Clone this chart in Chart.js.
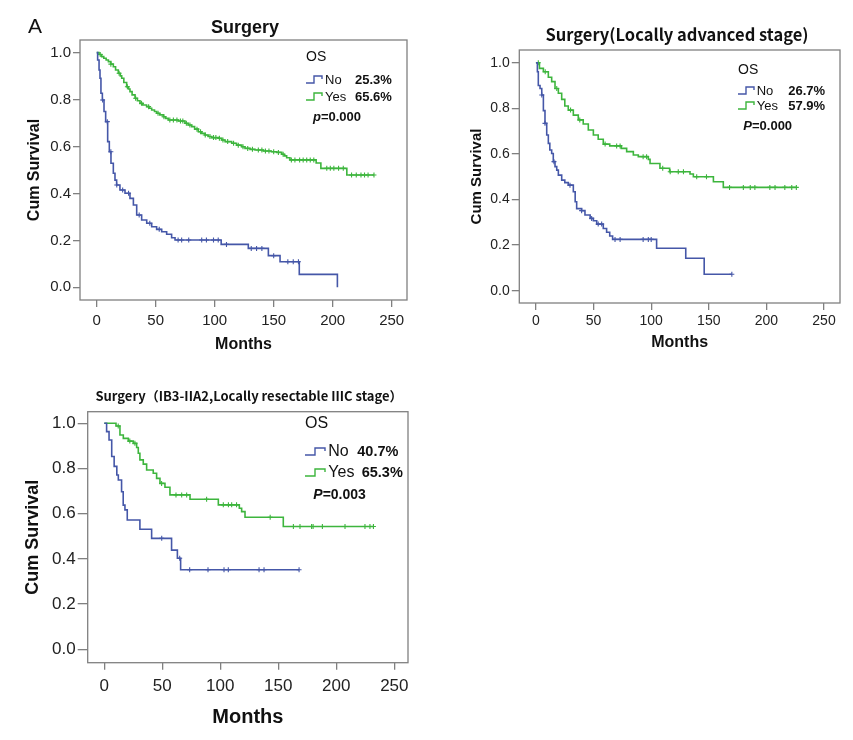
<!DOCTYPE html>
<html>
<head>
<meta charset="utf-8">
<script src="https://cdn.jsdelivr.net/npm/chart.js@4.4.1/dist/chart.umd.min.js"></script>
<style>
  html, body { margin: 0; padding: 0; background: #fff; }
  #page { position: relative; width: 853px; height: 740px; background: #fff; }
  canvas { position: absolute; }
</style>
</head>
<body>
<div id="page">
  <canvas id="km1" width="420" height="360" style="left:0;top:0"></canvas>
  <canvas id="km2" width="423" height="360" style="left:430px;top:0"></canvas>
  <canvas id="km3" width="430" height="360" style="left:0;top:380px"></canvas>
</div>
<script>
// ============================================================
// DATA (months, cumulative survival)
// ============================================================
const groups = ['No', 'Yes'];
const xTickVals = [0, 50, 100, 150, 200, 250];
const yTickVals = [0, 0.2, 0.4, 0.6, 0.8, 1.0];

// Panel 1: Surgery
const p1NoT = [0, 0.8, 2, 2.8, 3.6, 4.8, 6.2, 7.6, 9.3, 10.7, 12.1, 14.1, 15.5, 16.9, 19.7, 24, 28.2, 31.1, 33.9, 38.1, 42.4, 46.6, 50.8, 55.1, 59.3, 63.5, 66.4, 105.5, 128.5, 145.5, 155.4, 171.7, 204];
const p1NoS = [1, 0.969, 0.926, 0.891, 0.827, 0.798, 0.749, 0.706, 0.621, 0.578, 0.529, 0.486, 0.457, 0.436, 0.415, 0.401, 0.379, 0.351, 0.308, 0.287, 0.273, 0.258, 0.247, 0.237, 0.226, 0.211, 0.202, 0.183, 0.166, 0.135, 0.109, 0.055, 0];
const p1NoC = [5, 9, 12, 17, 22, 27, 36, 45, 53, 69, 72, 78, 89, 93, 99, 103, 110, 131, 135.5, 140, 150, 162, 166.6, 171];
const p1YesT = [0, 2, 4.2, 6, 8, 9.9, 12, 14.1, 16, 18.3, 20, 21.2, 23, 25.4, 27, 28.2, 30, 32.5, 34.5, 36.7, 39, 42.3, 44.5, 46.6, 49, 50.8, 53.5, 56.5, 58.5, 60.7, 69.2, 74.8, 77.5, 80.5, 83, 86.1, 89, 91.8, 94.5, 97.4, 103.1, 106, 108.8, 114.4, 118.5, 122.9, 125.7, 130, 134.2, 141.2, 148, 152.5, 156.8, 159, 161, 163.8, 186, 190, 212];
const p1YesS = [1, 0.992, 0.983, 0.976, 0.969, 0.962, 0.951, 0.940, 0.926, 0.912, 0.901, 0.891, 0.873, 0.855, 0.845, 0.834, 0.820, 0.806, 0.795, 0.784, 0.777, 0.770, 0.763, 0.756, 0.749, 0.742, 0.735, 0.727, 0.720, 0.713, 0.709, 0.699, 0.692, 0.685, 0.674, 0.663, 0.656, 0.649, 0.643, 0.638, 0.635, 0.628, 0.621, 0.614, 0.606, 0.599, 0.592, 0.588, 0.585, 0.581, 0.578, 0.575, 0.567, 0.560, 0.552, 0.543, 0.530, 0.507, 0.479];
const p1YesC = [3, 12, 19, 26, 33, 38, 44, 52, 57, 62, 65, 68, 71, 73, 76, 79, 85, 88, 92, 96, 99, 101, 104, 107, 111, 116, 120, 124, 128, 132, 137, 140, 143, 146, 150, 154, 158, 165, 168, 172, 175, 178, 181, 184, 195, 198, 201, 205, 209, 216, 220, 224, 227, 230, 235];
const p1Pct = ['25.3%', '65.6%'];

// Panel 2: Surgery (locally advanced stage)
const p2NoT = [0, 1.2, 2, 3.5, 5, 6.4, 7.8, 9.3, 10.7, 12, 13.6, 15, 16.5, 18, 19.4, 22.3, 25, 28, 32.4, 34, 35.3, 39.6, 42.5, 47, 49.8, 52.7, 58.4, 61.3, 64, 66.5, 104.7, 130, 146];
const p2NoS = [1, 0.96, 0.90, 0.887, 0.858, 0.79, 0.734, 0.683, 0.646, 0.617, 0.602, 0.566, 0.544, 0.529, 0.507, 0.485, 0.474, 0.463, 0.434, 0.39, 0.36, 0.351, 0.332, 0.317, 0.307, 0.292, 0.273, 0.256, 0.24, 0.225, 0.186, 0.142, 0.072];
const p2NoC = [5, 7.8, 15.6, 29.5, 39.6, 48.3, 54, 57, 68.6, 73, 93, 97.5, 100, 170];
const p2YesT = [0, 3, 6.4, 10.7, 13.6, 16.5, 19.4, 22.3, 25, 28, 32.4, 36.7, 41, 45.4, 49.8, 54, 58.4, 64, 74, 78.7, 84.5, 88.8, 97.5, 99, 107.6, 116, 133.7, 136.6, 154, 162.6];
const p2YesS = [1, 0.975, 0.96, 0.936, 0.917, 0.887, 0.866, 0.839, 0.81, 0.792, 0.77, 0.749, 0.731, 0.705, 0.683, 0.664, 0.643, 0.635, 0.624, 0.61, 0.595, 0.588, 0.576, 0.558, 0.537, 0.522, 0.512, 0.5, 0.478, 0.453];
const p2YesC = [2, 8, 18, 30, 38, 60, 70, 73, 93, 96, 110, 116.5, 123.5, 128, 139.5, 148, 168, 180, 186, 190, 203, 207.5, 216, 222, 226];
const p2Pct = ['26.7%', '57.9%'];

// Panel 3: Surgery (IB3-IIA2, locally resectable IIIC stage)
const p3NoT = [0, 2.0, 4.1, 6.4, 8.5, 10.8, 12.1, 14.9, 16.3, 17.8, 19.8, 30.7, 40.8, 58, 63, 65.8];
const p3NoS = [1, 0.963, 0.926, 0.853, 0.809, 0.771, 0.749, 0.697, 0.638, 0.617, 0.572, 0.531, 0.491, 0.439, 0.403, 0.352];
const p3NoC = [49.5, 65, 73.6, 89.4, 103.2, 106.9, 133.4, 137.7, 167.9];
const p3YesT = [0, 10.1, 13.5, 16.4, 20.7, 25, 27.9, 29.3, 30.7, 33.6, 36.5, 42.2, 45.1, 48, 52.3, 56.6, 73.9, 98.3, 116.4, 118.4, 121.3, 154.3];
const p3YesS = [1, 0.988, 0.948, 0.933, 0.921, 0.911, 0.893, 0.867, 0.838, 0.819, 0.793, 0.779, 0.756, 0.734, 0.717, 0.683, 0.664, 0.639, 0.624, 0.609, 0.584, 0.543];
const p3YesC = [12, 22, 26.4, 49.4, 61.8, 66.7, 71, 88.2, 102.6, 107, 109.8, 114, 143, 163, 168.7, 178.7, 180, 188, 207.5, 224.7, 229, 232];
const p3Pct = ['40.7%', '65.3%'];

// ============================================================
// STYLE
// ============================================================
const SANS = "'Liberation Sans', Arial, sans-serif";
const CJK = "'Noto Sans CJK SC', 'Noto Sans', sans-serif";
const BLUE = '#4557a8';
const GREEN = '#3db53d';
const FRAME = '#808080';
Chart.defaults.font.family = SANS;
Chart.defaults.color = '#222';
Chart.defaults.animation = false;

// merge event steps and censor marks into one step series
function kmPoints(times, surv, cens) {
  const pts = times.map((t, i) => ({ x: t, y: surv[i], c: false }));
  cens.forEach(t => {
    let s = surv[0];
    times.forEach((tt, i) => { if (tt <= t) s = surv[i]; });
    pts.push({ x: t, y: s, c: true });
  });
  pts.sort((a, b) => a.x - b.x || (a.c - b.c));
  return pts;
}

function kmDataset(label, color, pts) {
  return {
    label, data: pts,
    borderColor: color, backgroundColor: color,
    borderWidth: 1.6, stepped: 'before', fill: false, tension: 0,
    pointStyle: 'cross',
    pointRadius: c => (c.raw && c.raw.c ? 2.5 : 0),
    pointBorderColor: color, pointBorderWidth: 1.1, pointHoverRadius: 0
  };
}

// frame, title, OS legend
const kmDecor = {
  id: 'kmDecor',
  afterDraw(chart, args, o) {
    const ctx = chart.ctx, a = chart.chartArea;
    ctx.save();
    ctx.strokeStyle = FRAME; ctx.lineWidth = 1.3;
    ctx.strokeRect(a.left, a.top, a.right - a.left, a.bottom - a.top);

    ctx.fillStyle = '#111';
    ctx.textBaseline = 'middle'; ctx.textAlign = 'center';
    ctx.font = o.titleFont;
    ctx.fillText(o.title, o.titleX, o.titleY);

    if (o.tag) {
      ctx.textAlign = 'left'; ctx.textBaseline = 'alphabetic';
      ctx.font = o.tag.font;
      ctx.fillText(o.tag.text, o.tag.x, o.tag.y);
      ctx.textBaseline = 'middle';
    }

    const L = o.legend;
    ctx.textAlign = 'left';
    ctx.font = L.headFont;
    ctx.fillText('OS', L.x, L.headY);
    chart.data.datasets.forEach((ds, i) => {
      const y = L.rowY[i];
      ctx.strokeStyle = ds.borderColor; ctx.lineWidth = 1.4;
      ctx.beginPath();
      ctx.moveTo(L.x, y + 3);
      ctx.lineTo(L.x + L.symW * 0.5, y + 3);
      ctx.lineTo(L.x + L.symW * 0.5, y - 4);
      ctx.lineTo(L.x + L.symW, y - 4);
      ctx.lineTo(L.x + L.symW, y - 1);
      ctx.stroke();
      ctx.font = L.nameFont;
      ctx.fillText(ds.label, L.nameX, y);
      ctx.font = L.pctFont;
      ctx.fillText(L.pct[i], L.pctX[i], y);
    });
    ctx.font = 'italic ' + L.pFont;
    ctx.fillText(L.pLetter, L.pX, L.pY);
    const w = ctx.measureText(L.pLetter).width;
    ctx.font = L.pFont;
    ctx.fillText(L.pText, L.pX + w, L.pY);
    ctx.restore();
  }
};

function kmChart(id, cfg) {
  return new Chart(document.getElementById(id), {
    type: 'line',
    data: {
      datasets: [
        kmDataset(groups[0], BLUE, kmPoints(cfg.no[0], cfg.no[1], cfg.no[2])),
        kmDataset(groups[1], GREEN, kmPoints(cfg.yes[0], cfg.yes[1], cfg.yes[2]))
      ]
    },
    plugins: [kmDecor],
    options: {
      responsive: false, maintainAspectRatio: false,
      layout: { padding: cfg.padding },
      plugins: {
        legend: { display: false },
        tooltip: { enabled: false },
        title: { display: false },
        kmDecor: cfg.decor
      },
      scales: {
        x: {
          type: 'linear', min: cfg.xMin, max: cfg.xMax,
          afterFit: s => { s.height = cfg.xH; },
          afterBuildTicks: s => { s.ticks = xTickVals.map(v => ({ value: v })); },
          grid: { drawOnChartArea: false, drawTicks: true, tickLength: cfg.xTick, color: FRAME, lineWidth: 1.3 },
          border: { display: false },
          ticks: { font: { size: cfg.tickSize }, color: '#222', padding: cfg.xPad, maxRotation: 0, autoSkip: false },
          title: { display: true, text: 'Months', color: '#111', font: { size: cfg.xTitleSize, weight: 'bold' }, padding: { top: 0, bottom: cfg.xTitlePad } }
        },
        y: {
          min: cfg.yMin, max: cfg.yMax,
          afterFit: s => { s.width = cfg.yW; },
          afterBuildTicks: s => { s.ticks = yTickVals.map(v => ({ value: v })); },
          grid: { drawOnChartArea: false, drawTicks: true, tickLength: cfg.yTick, color: FRAME, lineWidth: 1.3 },
          border: { display: false },
          ticks: { font: { size: cfg.tickSize }, color: '#222', padding: 2, callback: v => v.toFixed(1) },
          title: { display: true, text: 'Cum Survival', color: '#111', font: { size: cfg.yTitleSize, weight: 'bold' }, padding: { top: cfg.yTitlePad, bottom: 0 } }
        }
      }
    }
  });
}

// ============================================================
// PANELS
// ============================================================
kmChart('km1', {
  no: [p1NoT, p1NoS, p1NoC], yes: [p1YesT, p1YesS, p1YesC],
  padding: { top: 40, right: 13, left: 0, bottom: 0 },
  xMin: -14.15, xMax: 263, yMin: -0.054, yMax: 1.054,
  xH: 60, yW: 80, xTick: 7, yTick: 7, xPad: 5, tickSize: 15,
  xTitleSize: 16, xTitlePad: 5.4, yTitleSize: 16, yTitlePad: 25,
  decor: {
    title: 'Surgery', titleFont: 'bold 18px ' + SANS, titleX: 245, titleY: 28,
    tag: { text: 'A', font: '21px ' + SANS, x: 28, y: 33 },
    legend: {
      x: 306, symW: 16, headY: 57, headFont: '14px ' + SANS,
      rowY: [80, 97], nameX: 325, nameFont: '13px ' + SANS,
      pct: p1Pct, pctX: [355, 355], pctFont: 'bold 13px ' + SANS,
      pLetter: 'p', pText: '=0.000', pX: 313, pY: 117, pFont: 'bold 13px ' + SANS
    }
  }
});

kmChart('km2', {
  no: [p2NoT, p2NoS, p2NoC], yes: [p2YesT, p2YesS, p2YesC],
  padding: { top: 50, right: 13, left: 0, bottom: 0 },
  xMin: -14.5, xMax: 263.9, yMin: -0.054, yMax: 1.0557,
  xH: 57, yW: 89.3, xTick: 7, yTick: 7.5, xPad: 3, tickSize: 14,
  xTitleSize: 16, xTitlePad: 7.4, yTitleSize: 15, yTitlePad: 38,
  decor: {
    title: 'Surgery(Locally advanced stage)', titleFont: 'bold 16.5px ' + CJK, titleX: 247, titleY: 35,
    legend: {
      x: 308, symW: 16, headY: 70, headFont: '14px ' + SANS,
      rowY: [91, 106], nameX: 326.7, nameFont: '13px ' + SANS,
      pct: p2Pct, pctX: [358.3, 358.3], pctFont: 'bold 13px ' + SANS,
      pLetter: 'P', pText: '=0.000', pX: 313.3, pY: 126, pFont: 'bold 13px ' + SANS
    }
  }
});

kmChart('km3', {
  no: [p3NoT, p3NoS, p3NoC], yes: [p3YesT, p3YesS, p3YesC],
  padding: { top: 31.7, right: 22, left: 0, bottom: 0 },
  xMin: -14.3, xMax: 261.8, yMin: -0.059, yMax: 1.051,
  xH: 77.3, yW: 87.7, xTick: 7, yTick: 10, xPad: 6, tickSize: 17,
  xTitleSize: 20, xTitlePad: 11, yTitleSize: 18, yTitlePad: 22.2,
  decor: {
    title: 'Surgery\uFF08IB3-IIA2,Locally resectable IIIC stage\uFF09', titleFont: 'bold 13px ' + CJK, titleX: 249, titleY: 16,
    legend: {
      x: 305, symW: 20, headY: 44, headFont: '16px ' + SANS,
      rowY: [72, 93], nameX: 328.3, nameFont: '16px ' + SANS,
      pct: p3Pct, pctX: [357.3, 361.7], pctFont: 'bold 14.5px ' + SANS,
      pLetter: 'P', pText: '=0.003', pX: 313.3, pY: 115, pFont: 'bold 14px ' + SANS
    }
  }
});
</script>
</body>
</html>
